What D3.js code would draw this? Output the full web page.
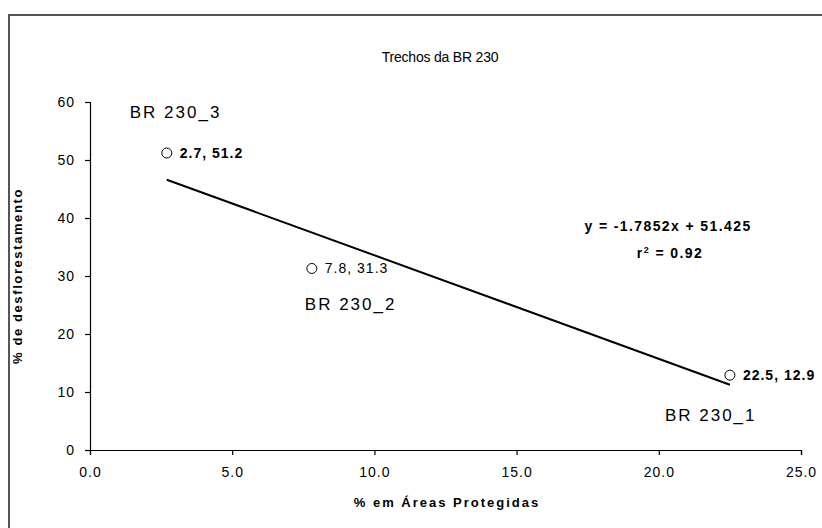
<!DOCTYPE html>
<html>
<head>
<meta charset="utf-8">
<script src="https://cdn.jsdelivr.net/npm/d3@7"></script>
<style>
	body { margin: 0; background: white; }
	text { font-family: "Liberation Sans", Arial, sans-serif; fill: #000; }
</style>
</head>
<body>
<script>
// Trechos da BR 230 - % em áreas protegidas x % de desflorestamento
var names = ['BR 230_1', 'BR 230_2', 'BR 230_3']
var protegidas = [22.5, 7.8, 2.7]
var desflorestamento = [12.9, 31.3, 51.2]
var xTicks = [0, 5, 10, 15, 20, 25]
var yTicks = [0, 10, 20, 30, 40, 50, 60]
var slope = -1.7852, intercept = 51.425, r2 = 0.92

var width = 822,
	height = 528

var svg = d3.select('body').append('svg')
	.attr('width', width)
	.attr('height', height)

// chart frame
svg.append('rect')
	.attr('x', 9)
	.attr('y', 15)
	.attr('width', width)
	.attr('height', height)
	.attr('fill', 'white')
	.attr('stroke', '#555')
	.attr('stroke-width', 2)

var x = d3.scaleLinear()
	.domain([0, 25])
	.range([90, 801])

var y = d3.scaleLinear()
	.domain([0, 60])
	.range([450, 102])

svg.append('g')
	.attr('transform', 'translate(0,' + y(0) + ')')
	.call(d3.axisBottom(x).tickValues(xTicks).tickFormat(d3.format('.1f')).tickSizeOuter(0).tickSize(5).tickPadding(12))

svg.append('g')
	.attr('transform', 'translate(' + x(0) + ',0)')
	.call(d3.axisLeft(y).tickValues(yTicks).tickSizeOuter(0).tickSize(5).tickPadding(10))

svg.selectAll('.domain, .tick line')
	.attr('stroke', '#000')
	.attr('stroke-width', 1.2)

svg.selectAll('.tick text')
	.style('font-family', '"Liberation Sans", Arial, sans-serif')
	.style('font-size', '14px')
	.style('letter-spacing', '1px')
	.attr('fill', '#222')

// title
svg.append('text')
	.attr('x', 440)
	.attr('y', 62)
	.attr('text-anchor', 'middle')
	.style('font-size', '14px')
	.style('letter-spacing', '-0.2px')
	.text('Trechos da BR 230')

// axis titles
svg.append('text')
	.attr('x', 447)
	.attr('y', 507)
	.attr('text-anchor', 'middle')
	.style('font-size', '13px')
	.style('font-weight', 'bold')
	.style('letter-spacing', '2px')
	.text('% em Áreas Protegidas')

svg.append('text')
	.attr('transform', 'translate(22,' + 276 + ') rotate(-90)')
	.attr('text-anchor', 'middle')
	.style('font-size', '13px')
	.style('font-weight', 'bold')
	.style('letter-spacing', '1.6px')
	.text('% de desflorestamento')

// regression line over the range of the data
var xMin = d3.min(protegidas), xMax = d3.max(protegidas)
svg.append('line')
	.attr('x1', x(xMin))
	.attr('y1', y(slope * xMin + intercept))
	.attr('x2', x(xMax))
	.attr('y2', y(slope * xMax + intercept))
	.attr('stroke', '#000')
	.attr('stroke-width', 2)

var points = names.map((d, i) => ({ name: d, px: protegidas[i], py: desflorestamento[i] }))

svg.selectAll('circle.pt')
	.data(points)
	.enter()
	.append('circle')
		.attr('class', 'pt')
		.attr('cx', d => x(d.px))
		.attr('cy', d => y(d.py))
		.attr('r', 5)
		.attr('fill', 'white')
		.attr('stroke', '#000')
		.attr('stroke-width', 1)

// value labels next to the points
svg.selectAll('text.val')
	.data(points)
	.enter()
	.append('text')
		.attr('class', 'val')
		.attr('x', d => x(d.px) + 13)
		.attr('y', d => y(d.py) + 5)
		.style('font-size', '14px')
		.style('letter-spacing', '1px')
		.style('font-weight', d => d.name == 'BR 230_2' ? 'normal' : 'bold')
		.text(d => d.px + ', ' + d.py)

// segment names
var nameOffset = { 'BR 230_1': [-65, 46], 'BR 230_2': [-7, 42], 'BR 230_3': [-37, -35] }
svg.selectAll('text.name')
	.data(points)
	.enter()
	.append('text')
		.attr('class', 'name')
		.attr('x', d => x(d.px) + nameOffset[d.name][0])
		.attr('y', d => y(d.py) + nameOffset[d.name][1])
		.style('font-size', '17px')
		.style('letter-spacing', '2px')
		.text(d => d.name)

// equation
var eq = svg.append('g')
	.style('font-size', '14px')
	.style('font-weight', 'bold')
	.style('letter-spacing', '1.4px')
eq.append('text')
	.attr('x', 668)
	.attr('y', 231)
	.attr('text-anchor', 'middle')
	.text('y = ' + slope + 'x + ' + intercept)

var r = eq.append('text')
	.attr('x', 670)
	.attr('y', 258)
	.attr('text-anchor', 'middle')
r.append('tspan').text('r')
r.append('tspan').attr('dy', -5).style('font-size', '9px').text('2')
r.append('tspan').attr('dy', 5).text(' = ' + r2)
</script>
</body>
</html>
